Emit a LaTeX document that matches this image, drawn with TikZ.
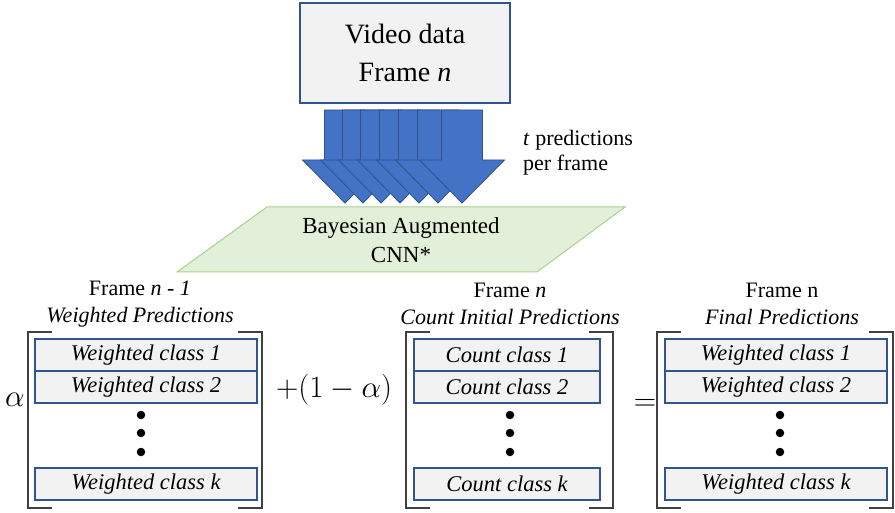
\documentclass[tikz,border=0pt]{standalone}
\usepackage{fix-cm}
\usepackage{fontspec}
\setmainfont{Liberation Serif}
\usetikzlibrary{shapes.geometric}
\definecolor{boxfill}{HTML}{F2F2F2}
\definecolor{boxline}{HTML}{2F5597}
\definecolor{arrfill}{HTML}{4472C4}
\definecolor{arrline}{HTML}{2F528F}
\definecolor{cnnfill}{HTML}{E2F0D9}
\definecolor{cnnline}{HTML}{A9D18E}
\definecolor{brk}{HTML}{404040}
\newcommand{\fsz}[1]{\fontsize{#1}{#1}\selectfont}
\tikzset{
  classbox/.style={draw=boxline, fill=boxfill, line width=1.3pt, minimum width=#1, minimum height=32pt, inner sep=0pt, font=\fsz{22.5}\itshape},
  title/.style={align=center, font=\fsz{22}, inner sep=0pt},
  brace/.style={draw=brk, line width=1.3pt},
  dot/.style={circle, fill=black, minimum size=8.5pt, inner sep=0pt},
  op/.style={inner sep=0pt, font=\fsz{31}},
}
\begin{document}
\begin{tikzpicture}[x=1pt, y=-1pt]
\useasboundingbox (0,0) rectangle (895,513);

% input frame
\node[draw=boxline, fill=boxfill, line width=1.2pt, minimum width=210pt, minimum height=100pt,
      align=center, font=\fsz{28}, inner sep=0pt] (video) at (405,53)
  {Video data\\[10pt]Frame \textit{n}};

% stacked block arrows, one per prediction
\foreach \c in {345,363,381,400,419,438,462}{
  \draw[fill=arrfill, draw=arrline, line width=0.8pt]
    (\c-20.5,110) -- (\c+20.5,110) -- (\c+20.5,160) -- (\c+42.5,160)
    -- (\c,203) -- (\c-42.5,160) -- (\c-20.5,160) -- cycle;
}
\node[align=left, anchor=west, font=\fsz{22}, inner sep=0pt] (tpred) at (523,153)
  {\textit{t} predictions\\[3pt]per frame};

% network
\draw[fill=cnnfill, draw=cnnline, line width=1pt]
  (267,207) -- (625,207) -- (537,272) -- (177,272) -- cycle;
\node[title, font=\fsz{23}] (cnn) at (401,240) {Bayesian Augmented\\[6pt]CNN*};

% left vector
\node[title] (tl) at (140,304) {Frame \textit{n - 1}\\[5pt]\textit{Weighted Predictions}};
\draw[brace] (52,332) -- (28,332) -- (28,508) -- (52,508);
\draw[brace] (238,332) -- (262,332) -- (262,508) -- (238,508);
\node[classbox=222pt] (l1) at (146,355) {Weighted class 1};
\node[classbox=222pt] (l2) at (146,387) {Weighted class 2};
\node[classbox=222pt] (lk) at (146,484) {Weighted class k};
\node[dot] (ld1) at (141,415) {};
\node[dot] (ld2) at (141,433) {};
\node[dot] (ld3) at (141,452) {};
\node[op] (alpha) at (15,400) {$\alpha$};

\node[op, anchor=west] (mix) at (276,390) {$+(1-\alpha)$};

% middle vector
\node[title] (tm) at (510,304) {Frame \textit{n}\\[5pt]\textit{Count Initial Predictions}};
\draw[brace] (430,332) -- (406,332) -- (406,508) -- (430,508);
\draw[brace] (589,332) -- (613,332) -- (613,508) -- (589,508);
\node[classbox=186pt] (m1) at (507,355) {Count class 1};
\node[classbox=186pt] (m2) at (507,387) {Count class 2};
\node[classbox=186pt] (mk) at (507,484) {Count class k};
\node[dot] (md1) at (510,415) {};
\node[dot] (md2) at (510,433) {};
\node[dot] (md3) at (510,452) {};

\node[op] (eq) at (645,405) {$=$};

% right vector
\node[title] (tr) at (782,304) {Frame n\\[5pt]\textit{Final Predictions}};
\draw[brace] (681,332) -- (657,332) -- (657,508) -- (681,508);
\draw[brace] (869,332) -- (893,332) -- (893,508) -- (869,508);
\node[classbox=222pt] (r1) at (776,355) {Weighted class 1};
\node[classbox=222pt] (r2) at (776,387) {Weighted class 2};
\node[classbox=222pt] (rk) at (776,484) {Weighted class k};
\node[dot] (rd1) at (780,415) {};
\node[dot] (rd2) at (780,433) {};
\node[dot] (rd3) at (780,452) {};
\end{tikzpicture}
\end{document}
